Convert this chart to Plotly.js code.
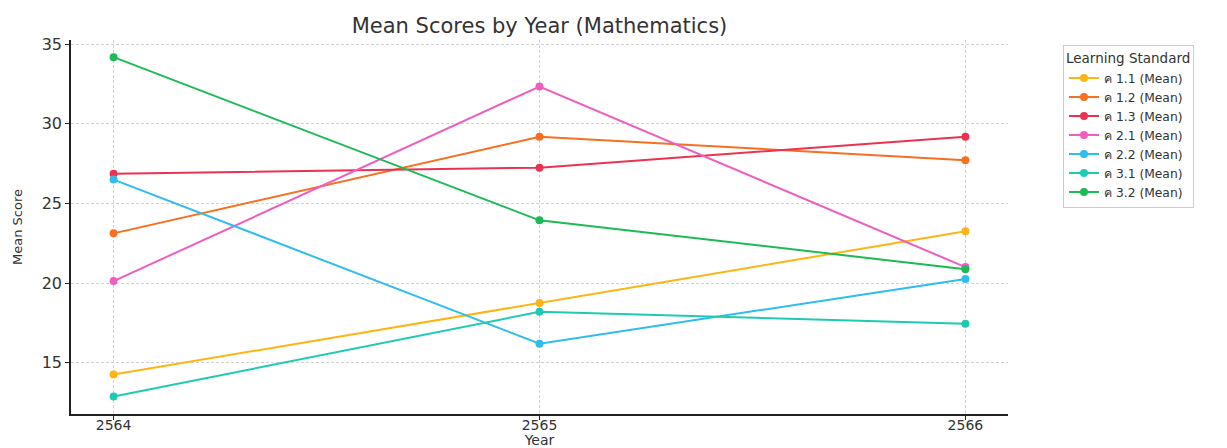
<!DOCTYPE html>
<html>
<head>
<meta charset="utf-8">
<script src="https://cdn.plot.ly/plotly-3.0.1.min.js"></script>
<style>html,body{margin:0;padding:0;background:#fff;}#chart{width:1227px;height:448px;}</style>
</head>
<body>
<div id="chart"></div>
<script>
const years = [2564, 2565, 2566];
const seriesNames = ["ค 1.1 (Mean)", "ค 1.2 (Mean)", "ค 1.3 (Mean)", "ค 2.1 (Mean)", "ค 2.2 (Mean)", "ค 3.1 (Mean)", "ค 3.2 (Mean)"];
const s11 = [14.25, 18.75, 23.25];
const s12 = [23.12, 29.19, 27.72];
const s13 = [26.87, 27.25, 29.19];
const s21 = [20.12, 32.35, 21.0];
const s22 = [26.5, 16.19, 20.25];
const s31 = [12.87, 18.19, 17.44];
const s32 = [34.19, 23.94, 20.87];
const seriesValues = [s11, s12, s13, s21, s22, s31, s32];
const colors = ["#FDB515", "#F5701F", "#EB3250", "#EE5EC0", "#2FBCEF", "#1ECBB2", "#1DBB55"];

const traces = seriesValues.map((v, i) => ({
  x: years, y: v, name: seriesNames[i], type: "scatter", mode: "lines+markers",
  line: {color: colors[i], width: 2}, marker: {color: colors[i], size: 8}
}));

const font = "DejaVu Sans, sans-serif";
const layout = {
  width: 1227, height: 448,
  margin: {l: 71, r: 219, t: 40, b: 34},
  paper_bgcolor: "#fff", plot_bgcolor: "#fff",
  title: {text: "Mean Scores by Year (Mathematics)", font: {family: font, size: 21, color: "#333"},
          xref: "paper", x: 0.5, xanchor: "center", y: 0.942, yanchor: "middle"},
  xaxis: {
    range: [2563.9, 2566.1], tickvals: years, ticktext: years.map(String),
    showline: true, linecolor: "#222", linewidth: 1.6, mirror: false,
    ticks: "outside", ticklen: 4, tickcolor: "#222", tickwidth: 1.2,
    ticklabelstandoff: -7,
    showgrid: true, gridcolor: "#d2d2d2", griddash: "3px,2px", gridwidth: 1,
    zeroline: false,
    tickfont: {family: font, size: 14, color: "#333"},
    title: {text: "Year", font: {family: font, size: 14, color: "#333"}, standoff: 0}
  },
  yaxis: {
    range: [11.77, 35.27], tickvals: [15, 20, 25, 30, 35],
    showline: true, linecolor: "#222", linewidth: 1.6,
    ticks: "outside", ticklen: 4, tickcolor: "#222", tickwidth: 1.2,
    showgrid: true, gridcolor: "#d2d2d2", griddash: "3px,2px", gridwidth: 1,
    zeroline: false,
    tickfont: {family: font, size: 16, color: "#333"},
    title: {text: "Mean Score", font: {family: font, size: 13, color: "#333"}, standoff: 16}
  },
  legend: {
    x: 1.0587, xanchor: "left", y: 0.987, yanchor: "top",
    bordercolor: "#cccccc", borderwidth: 1, bgcolor: "#fff",
    font: {family: font, size: 12.3, color: "#333"},
    title: {text: "Learning Standard", font: {family: font, size: 13.5, color: "#333"}},
    tracegroupgap: 0, itemwidth: 30
  },
  showlegend: true
};
Plotly.newPlot("chart", traces, layout, {displayModeBar: false});
</script>
</body>
</html>
